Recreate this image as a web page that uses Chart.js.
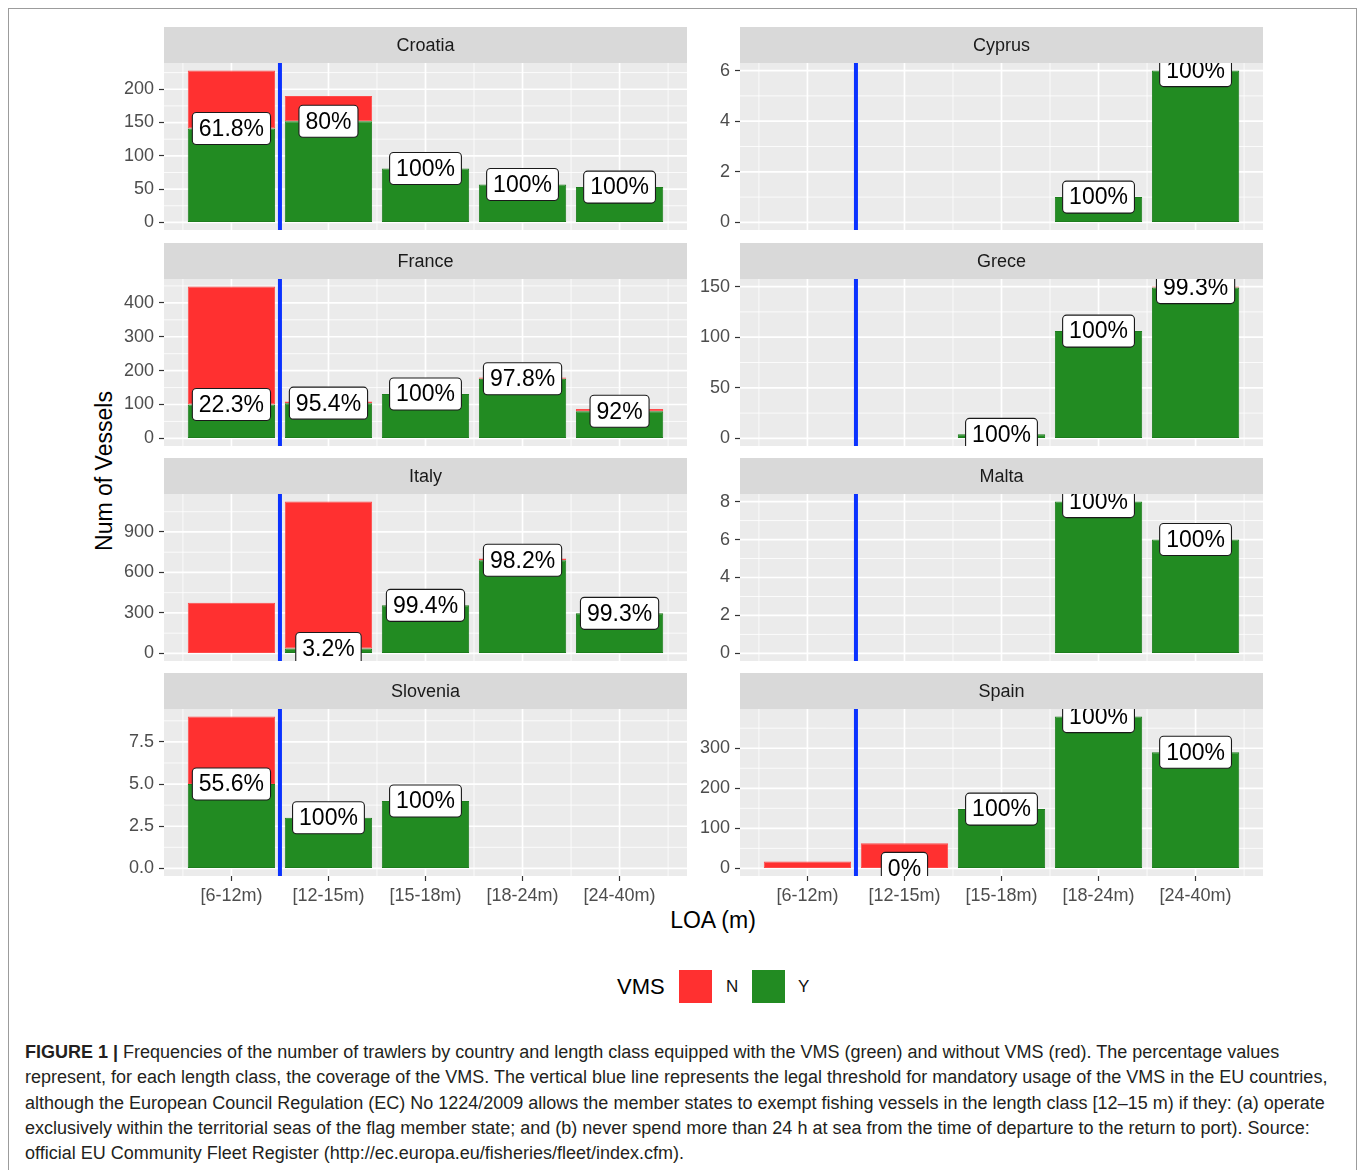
<!DOCTYPE html>
<html>
<head>
<meta charset="utf-8">
<title>Trawlers by length class and VMS</title>
<script src="https://cdn.jsdelivr.net/npm/chart.js@4.4.1/dist/chart.umd.min.js"></script>
<style>
  html, body { margin: 0; padding: 0; background: #fff; }
  body {
    width: 1358px; height: 1170px; position: relative; overflow: hidden;
    font-family: "Liberation Sans", Arial, Helvetica, sans-serif;
  }
  .frame {
    position: absolute; left: 8px; top: 8px; width: 1349px; height: 1190px;
    border: 1.5px solid #9c9c9c; box-sizing: border-box;
  }
  canvas.facet { position: absolute; }
  .ytitle {
    position: absolute; left: 104px; top: 471px; font-size: 23px; color: #000;
    white-space: nowrap; transform: translate(-50%, -50%) rotate(-90deg);
  }
  .xtitle {
    position: absolute; left: 713px; top: 920px; font-size: 23px; color: #000;
    white-space: nowrap; transform: translate(-50%, -50%);
  }
  .legend { position: absolute; top: 970px; left: 0; height: 33px; }
  .legend span { position: absolute; white-space: nowrap; }
  .legend .key { width: 33px; height: 33px; top: 0; }
  .legend .ttl { font-size: 22px; line-height: 33px; top: 0; }
  .legend .lab { font-size: 17px; line-height: 33px; top: 0; color: #111; }
  .caption {
    position: absolute; left: 25px; top: 1040px; font-size: 18px; line-height: 25.3px;
    color: #231f20;
  }
  .caption div { white-space: nowrap; }
  .caption b { font-weight: bold; }
</style>
</head>
<body>
<div class="frame"></div>

<div class="ytitle">Num of Vessels</div>
<div class="xtitle">LOA (m)</div>

<div class="legend" id="legend"></div>

<div class="caption">
  <div><b>FIGURE 1 |</b> Frequencies of the number of trawlers by country and length class equipped with the VMS (green) and without VMS (red). The percentage values</div>
  <div>represent, for each length class, the coverage of the VMS. The vertical blue line represents the legal threshold for mandatory usage of the VMS in the EU countries,</div>
  <div>although the European Council Regulation (EC) No 1224/2009 allows the member states to exempt fishing vessels in the length class [12–15 m) if they: (a) operate</div>
  <div>exclusively within the territorial seas of the flag member state; and (b) never spend more than 24 h at sea from the time of departure to the return to port). Source:</div>
  <div>official EU Community Fleet Register (http://ec.europa.eu/fisheries/fleet/index.cfm).</div>
</div>

<script>
// Length classes (x axis)
const lengthClasses = ['[6-12m)', '[12-15m)', '[15-18m)', '[18-24m)', '[24-40m)'];

// Vessels with VMS (Y) and without VMS (N) per length class; null = no vessels of that kind
const croatiaY = [141, 152, 81, 57, 53];
const croatiaN = [87, 38, null, null, null];
const cyprusY = [null, null, null, 1, 6];
const cyprusN = [null, null, null, null, null];
const franceY = [100, 104, 131, 176, 80];
const franceN = [348, 5, null, 4, 7];
const greceY = [null, null, 4, 106, 149];
const greceN = [null, null, null, null, 1];
const italyY = [null, 36, 356, 690, 297];
const italyN = [376, 1089, 2, 13, 2];
const maltaY = [null, null, null, 8, 6];
const maltaN = [null, null, null, null, null];
const sloveniaY = [5, 3, 4, null, null];
const sloveniaN = [4, null, null, null, null];
const spainY = [null, 0, 148, 379, 290];
const spainN = [17, 63, null, null, null];

// y-axis breaks for each facet
const croatiaTicks = [0, 50, 100, 150, 200];
const cyprusTicks = [0, 2, 4, 6];
const franceTicks = [0, 100, 200, 300, 400];
const greceTicks = [0, 50, 100, 150];
const italyTicks = [0, 300, 600, 900];
const maltaTicks = [0, 2, 4, 6, 8];
const sloveniaTicks = [0, 2.5, 5, 7.5];
const spainTicks = [0, 100, 200, 300];

const VMS_COLORS = { N: '#FF3030', Y: '#228B22' };
const THRESHOLD_AT = 1.5; // between [6-12m) and [12-15m)

// facets in wrap order (left to right, top to bottom)
const panels = [
  { name: 'Croatia', y: croatiaY, n: croatiaN, ticks: croatiaTicks },
  { name: 'Cyprus', y: cyprusY, n: cyprusN, ticks: cyprusTicks },
  { name: 'France', y: franceY, n: franceN, ticks: franceTicks },
  { name: 'Grece', y: greceY, n: greceN, ticks: greceTicks },
  { name: 'Italy', y: italyY, n: italyN, ticks: italyTicks },
  { name: 'Malta', y: maltaY, n: maltaN, ticks: maltaTicks },
  { name: 'Slovenia', y: sloveniaY, n: sloveniaN, ticks: sloveniaTicks },
  { name: 'Spain', y: spainY, n: spainN, ticks: spainTicks },
];

const STRIP_H = 36;
const PANEL_H = 167;
const XAXIS_H = 40;
const BOTTOM_PAD = 26; // room for the y tick label overhang on inner rows
const rowTops = [27, 243, 458, 673];
const cols = [
  { left: 100, width: 590, axisW: 64 },
  { left: 690, width: 576, axisW: 50 },
];
const FONT = '"Liberation Sans", Arial, Helvetica, sans-serif';

Chart.defaults.font.family = FONT;

function pctLabel(y, n) {
  const p = Math.round(y / (y + (n || 0)) * 1000) / 10;
  return p + '%';
}

function roundRect(ctx, x, y, w, h, r) {
  ctx.beginPath();
  ctx.moveTo(x + r, y);
  ctx.lineTo(x + w - r, y);
  ctx.arcTo(x + w, y, x + w, y + r, r);
  ctx.lineTo(x + w, y + h - r);
  ctx.arcTo(x + w, y + h, x + w - r, y + h, r);
  ctx.lineTo(x + r, y + h);
  ctx.arcTo(x, y + h, x, y + h - r, r);
  ctx.lineTo(x, y + r);
  ctx.arcTo(x, y, x + r, y, r);
  ctx.closePath();
}

// panel background, grid, strip, threshold line and percentage labels
const facetPlugin = {
  id: 'facet',
  beforeDraw(chart, args, opts) {
    const { ctx, chartArea: a } = chart;
    const xs = chart.scales.x, ys = chart.scales.y;
    ctx.save();
    ctx.fillStyle = '#EBEBEB';
    ctx.fillRect(a.left, a.top, a.right - a.left, a.bottom - a.top);

    ctx.strokeStyle = '#FFFFFF';
    const hline = (v) => {
      const py = ys.getPixelForValue(v);
      if (py < a.top || py > a.bottom) return;
      ctx.beginPath(); ctx.moveTo(a.left, py); ctx.lineTo(a.right, py); ctx.stroke();
    };
    const vline = (v) => {
      const px = xs.getPixelForValue(v);
      if (px < a.left || px > a.right) return;
      ctx.beginPath(); ctx.moveTo(px, a.top); ctx.lineTo(px, a.bottom); ctx.stroke();
    };

    const ticks = opts.ticks;
    const step = ticks[1] - ticks[0];
    ctx.lineWidth = 0.8;
    ticks.forEach(t => hline(t + step / 2));
    hline(ticks[0] - step / 2);
    for (let i = 0; i <= lengthClasses.length; i++) vline(i + 0.5);

    ctx.lineWidth = 1.7;
    ticks.forEach(hline);
    lengthClasses.forEach((_, i) => vline(i + 1));

    // facet strip
    ctx.fillStyle = '#D9D9D9';
    ctx.fillRect(a.left, a.top - STRIP_H, a.right - a.left, STRIP_H);
    ctx.fillStyle = '#1A1A1A';
    ctx.font = '18px ' + FONT;
    ctx.textAlign = 'center';
    ctx.textBaseline = 'middle';
    ctx.fillText(opts.name, (a.left + a.right) / 2, a.top - STRIP_H / 2 + 1);
    ctx.restore();
  },
  afterDatasetsDraw(chart, args, opts) {
    const { ctx, chartArea: a } = chart;
    const xs = chart.scales.x, ys = chart.scales.y;
    ctx.save();
    ctx.beginPath();
    ctx.rect(a.left, a.top, a.right - a.left, a.bottom - a.top);
    ctx.clip();

    // legal threshold line
    const bx = xs.getPixelForValue(THRESHOLD_AT);
    ctx.strokeStyle = '#0A32FF';
    ctx.lineWidth = 4;
    ctx.beginPath(); ctx.moveTo(bx, a.top); ctx.lineTo(bx, a.bottom); ctx.stroke();

    // VMS coverage labels, centred on the top of the Y bar
    ctx.font = '23px ' + FONT;
    ctx.textAlign = 'center';
    ctx.textBaseline = 'middle';
    opts.yVals.forEach((y, i) => {
      if (y === null) return;
      const txt = pctLabel(y, opts.nVals[i]);
      const cx = xs.getPixelForValue(i + 1);
      const cy = ys.getPixelForValue(y);
      const w = ctx.measureText(txt).width + 13;
      const h = 32;
      roundRect(ctx, cx - w / 2, cy - h / 2, w, h, 4);
      ctx.fillStyle = '#FFFFFF';
      ctx.fill();
      ctx.strokeStyle = '#1A1A1A';
      ctx.lineWidth = 1.1;
      ctx.stroke();
      ctx.fillStyle = '#000000';
      ctx.fillText(txt, cx, cy + 1);
    });
    ctx.restore();
  },
};

function stackMax(p) {
  return Math.max(...p.y.map((v, i) => (v || 0) + (p.n[i] || 0)));
}

function tickText(v, ticks) {
  const decimals = ticks.some(t => !Number.isInteger(t)) ? 1 : 0;
  return Number(v).toFixed(decimals);
}

panels.forEach((p, idx) => {
  const row = Math.floor(idx / 2);
  const col = cols[idx % 2];
  const isBottom = row === rowTops.length - 1;
  const canvas = document.createElement('canvas');
  canvas.className = 'facet';
  const h = STRIP_H + PANEL_H + (isBottom ? XAXIS_H : BOTTOM_PAD);
  canvas.width = col.width;
  canvas.height = h;
  canvas.style.left = col.left + 'px';
  canvas.style.top = rowTops[row] + 'px';
  canvas.style.width = col.width + 'px';
  canvas.style.height = h + 'px';
  document.body.appendChild(canvas);

  const top = stackMax(p);
  const tickGrid = {
    drawOnChartArea: false,
    drawTicks: true,
    tickLength: 5,
    tickColor: '#333333',
    tickWidth: 1.2,
    offset: false,
  };

  new Chart(canvas.getContext('2d'), {
    type: 'bar',
    data: {
      datasets: [
        {
          label: 'Y',
          data: p.y.map((v, i) => ({ x: i + 1, y: v })),
          backgroundColor: VMS_COLORS.Y,
          borderColor: '#1D7D1D',
          borderWidth: 1,
          borderSkipped: false,
        },
        {
          label: 'N',
          data: p.n.map((v, i) => ({ x: i + 1, y: v })),
          backgroundColor: VMS_COLORS.N,
          borderColor: '#FF4A4A',
          borderWidth: 1,
          borderSkipped: false,
        },
      ],
    },
    options: {
      responsive: false,
      animation: false,
      devicePixelRatio: 1,
      categoryPercentage: 0.9,
      barPercentage: 1,
      layout: { padding: { top: STRIP_H, right: 3, bottom: isBottom ? 0 : BOTTOM_PAD, left: 0 } },
      plugins: {
        legend: { display: false },
        tooltip: { enabled: false },
        facet: { name: p.name, ticks: p.ticks, yVals: p.y, nVals: p.n },
      },
      scales: {
        x: {
          type: 'linear',
          stacked: true,
          offset: false,
          min: 0.305,
          max: 5.695,
          display: isBottom,
          grid: tickGrid,
          border: { display: false },
          afterBuildTicks: (axis) => {
            axis.ticks = lengthClasses.map((_, i) => ({ value: i + 1 }));
          },
          afterFit: (scale) => { scale.height = isBottom ? XAXIS_H : 0; },
          ticks: {
            callback: (v) => lengthClasses[Math.round(v) - 1],
            color: '#4D4D4D',
            font: { size: 18 },
            padding: 4,
            maxRotation: 0,
            autoSkip: false,
          },
        },
        y: {
          stacked: true,
          min: -0.05 * top,
          max: 1.05 * top,
          grid: tickGrid,
          border: { display: false },
          afterBuildTicks: (axis) => {
            axis.ticks = p.ticks.map(v => ({ value: v }));
          },
          afterFit: (scale) => { scale.width = col.axisW; },
          ticks: {
            callback: (v) => tickText(v, p.ticks),
            color: '#4D4D4D',
            font: { size: 18 },
            padding: 5,
          },
        },
      },
    },
    plugins: [facetPlugin],
  });
});

// VMS legend
const legend = document.getElementById('legend');
legend.innerHTML =
  '<span class="ttl" style="left:617px">VMS</span>' +
  '<span class="key" style="left:679px;background:' + VMS_COLORS.N + '"></span>' +
  '<span class="lab" style="left:726px">N</span>' +
  '<span class="key" style="left:752px;background:' + VMS_COLORS.Y + '"></span>' +
  '<span class="lab" style="left:798px">Y</span>';
</script>
</body>
</html>
